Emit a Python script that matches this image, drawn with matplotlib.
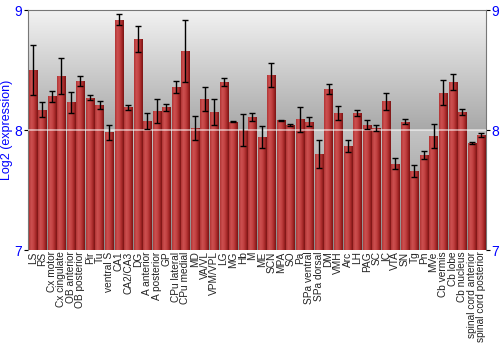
import numpy as np
import matplotlib
matplotlib.use("Agg")
import matplotlib.pyplot as plt
from matplotlib.colors import LinearSegmentedColormap

plt.rcParams['font.family'] = ['Liberation Sans', 'DejaVu Sans']

regions = ["LS", "RS", "Cx motor", "Cx cingulate", "OB anterior", "OB posterior",
           "Pir", "Tu", "ventral S", "CA1", "CA2/CA3", "DG", "A anterior",
           "A posterior", "GP", "CPu lateral", "CPu medial", "MD", "VA/VL",
           "VPM/VPL", "LG", "MG", "Hb", "M", "ME", "SCN", "MPA", "SO", "Pa",
           "SPa ventral", "SPa dorsal", "DM", "VMH", "Arc", "LH", "PAG", "SC",
           "IC", "VTA", "SN", "Tg", "Pn", "MVe", "Cb vermis", "Cb lobe",
           "Cb nucleus", "spinal cord anterior", "spinal cord posterior"]

expr = [8.50, 8.17, 8.28, 8.45, 8.23, 8.41, 8.27, 8.21, 7.98, 8.92, 8.19, 8.76,
        8.075, 8.155, 8.19, 8.36, 8.66, 8.02, 8.255, 8.15, 8.40, 8.07, 8.00,
        8.11, 7.94, 8.46, 8.08, 8.04, 8.09, 8.07, 7.80, 8.34, 8.14, 7.87, 8.14,
        8.045, 8.02, 8.24, 7.72, 8.07, 7.66, 7.79, 7.95, 8.31, 8.40, 8.15,
        7.89, 7.96]

err = [0.21, 0.06, 0.045, 0.15, 0.09, 0.04, 0.02, 0.035, 0.06, 0.045, 0.02,
       0.11, 0.065, 0.10, 0.03, 0.05, 0.26, 0.10, 0.10, 0.11, 0.03, 0.005,
       0.13, 0.035, 0.09, 0.10, 0.005, 0.01, 0.105, 0.04, 0.115, 0.04, 0.06,
       0.05, 0.025, 0.035, 0.025, 0.07, 0.045, 0.02, 0.05, 0.035, 0.10,
       0.105, 0.07, 0.025, 0.008, 0.015]

fig = plt.figure(figsize=(5, 3.5), dpi=100)
ax = fig.add_axes([0.056, 0.2857, 0.916, 0.6857])

n = len(regions)
x = np.arange(n)
ax.set_xlim(-0.5, n - 0.5)
ax.set_ylim(7, 9)

# background: two gray gradient bands
bg_top = LinearSegmentedColormap.from_list("bgt", ["#a8a8a8", "#f2f2f2"])
bg_bot = LinearSegmentedColormap.from_list("bgb", ["#8a8a8a", "#c4c4c4"])
grad = np.linspace(0, 1, 256).reshape(-1, 1)
ax.imshow(grad, cmap=bg_top, origin="lower", aspect="auto",
          extent=(-0.5, n - 0.5, 8, 9), zorder=0)
ax.imshow(grad, cmap=bg_bot, origin="lower", aspect="auto",
          extent=(-0.5, n - 0.5, 7, 8), zorder=0)

bars = ax.bar(x, np.array(expr) - 7, bottom=7, width=0.86, color="#b83232",
              edgecolor="none", zorder=2)

bar_cmap = LinearSegmentedColormap.from_list(
    "barc", ["#b03434", "#cc5050", "#c44444", "#a82a2a", "#7a1414"])
hgrad = np.linspace(0, 1, 64).reshape(1, -1)
for b in bars:
    x0, w = b.get_x(), b.get_width()
    im = ax.imshow(hgrad, cmap=bar_cmap, aspect="auto",
                   extent=(x0, x0 + w, 7, b.get_y() + b.get_height()), zorder=3)
    im.set_clip_path(b)

ax.axhline(8, color="white", lw=1.2, alpha=0.6, zorder=4)

ax.errorbar(x, expr, yerr=err, fmt="none", ecolor="black", elinewidth=1,
            capsize=2, capthick=1, zorder=5)

ax.set_xticks(x)
ax.set_xticklabels(regions, rotation=90, fontsize=7.3, color="#222222")
ax.tick_params(axis="x", length=0, pad=1)
ax.set_yticks([7, 8, 9])
ax.tick_params(axis="y", labelsize=10, labelcolor="blue", length=3,
               right=True, labelright=True, pad=1)
ax.set_ylabel("Log2 (expression)", color="blue", fontsize=9, labelpad=1)

for s in ax.spines.values():
    s.set_color("#777777")
ax.spines["bottom"].set_visible(False)

fig.savefig("out.png", dpi=100)
